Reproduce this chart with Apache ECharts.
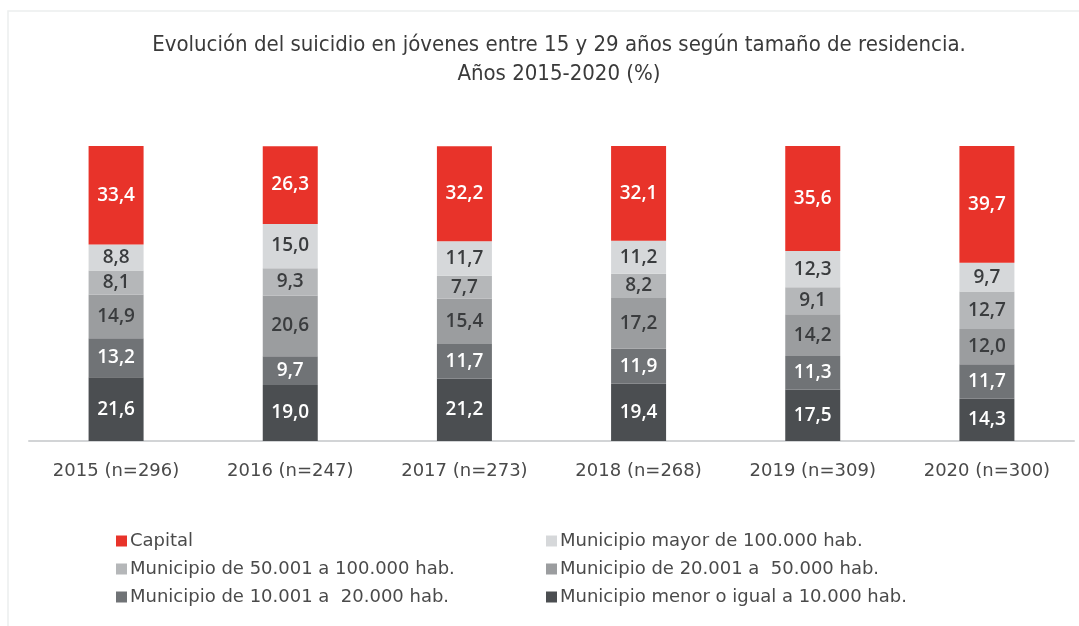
<!DOCTYPE html>
<html>
<head>
<meta charset="utf-8">
<script src="https://cdn.jsdelivr.net/npm/echarts@6/dist/echarts.min.js"></script>
<style>
  html, body { margin: 0; padding: 0; background: #fff; }
  #chart { width: 1079px; height: 626px; }
</style>
</head>
<body>
<div id="chart"></div>
<script>
const years = ['2015 (n=296)', '2016 (n=247)', '2017 (n=273)', '2018 (n=268)', '2019 (n=309)', '2020 (n=300)']

// bottom to top
const menor10k = [21.6, 19.0, 21.2, 19.4, 17.5, 14.3]
const de10a20k = [13.2, 9.7, 11.7, 11.9, 11.3, 11.7]
const de20a50k = [14.9, 20.6, 15.4, 17.2, 14.2, 12.0]
const de50a100k = [8.1, 9.3, 7.7, 8.2, 9.1, 12.7]
const mayor100k = [8.8, 15.0, 11.7, 11.2, 12.3, 9.7]
const capital = [33.4, 26.3, 32.2, 32.1, 35.6, 39.7]

const names = {
  capital: 'Capital',
  mayor: 'Municipio mayor de 100.000 hab.',
  d50: 'Municipio de 50.001 a 100.000 hab.',
  d20: 'Municipio de 20.001 a  50.000 hab.',
  d10: 'Municipio de 10.001 a  20.000 hab.',
  menor: 'Municipio menor o igual a 10.000 hab.',
}

const labelFont = '"Open Sans", sans-serif'
const textFont = '"DejaVu Sans", sans-serif'
const fmt = p => p.value.toFixed(1).replace('.', ',')

function bar(name, data, color, textColor) {
  return {
    name, type: 'bar', stack: 'total', data,
    barWidth: 55,
    itemStyle: { color },
    label: {
      show: true, position: 'inside', formatter: fmt,
      color: textColor, fontSize: 19, fontWeight: 600, fontFamily: labelFont,
    },
  }
}

const legendText = { fontFamily: textFont, fontSize: 18, color: '#4a4a4a', padding: [0, 0, 0, -2] }

const chart = echarts.init(document.getElementById('chart'))
chart.setOption({
  animation: false,
  title: {
    text: 'Evolución del suicidio en jóvenes entre 15 y 29 años según tamaño de residencia.\nAños 2015-2020 (%)',
    left: 554, top: 26, textAlign: 'center',
    textStyle: {
      fontFamily: '"DejaVu Sans Condensed", "Liberation Sans Narrow", sans-serif',
      fontWeight: 'normal', fontSize: 22, color: '#3a3a3a', lineHeight: 29,
    },
  },
  graphic: [
    { type: 'polyline', shape: { points: [[8, 626], [8, 11], [1079, 11]] },
      style: { stroke: '#eceeee', lineWidth: 1.5, fill: null } },
  ],
  legend: [
    {
      orient: 'vertical', left: 111, top: 527, itemGap: 10,
      itemWidth: 11, itemHeight: 11, icon: 'rect',
      data: [names.capital, names.d50, names.d10],
      textStyle: legendText,
    },
    {
      orient: 'vertical', left: 541, top: 527, itemGap: 10,
      itemWidth: 11, itemHeight: 11, icon: 'rect',
      data: [names.mayor, names.d20, names.menor],
      textStyle: legendText,
    },
  ],
  grid: { left: 29, right: 5, top: 146, bottom: 185, containLabel: false },
  xAxis: {
    type: 'category', data: years,
    axisTick: { show: false },
    axisLine: { lineStyle: { color: '#d2d4d6', width: 2 } },
    axisLabel: { margin: 21, fontSize: 18, color: '#4a4a4a', fontFamily: textFont },
  },
  yAxis: { type: 'value', min: 0, max: 100, show: false },
  series: [
    bar(names.menor, menor10k, '#4b4e51', '#ffffff'),
    bar(names.d10, de10a20k, '#707376', '#ffffff'),
    bar(names.d20, de20a50k, '#9b9d9f', '#3a3c3e'),
    bar(names.d50, de50a100k, '#b5b7b9', '#3a3c3e'),
    bar(names.mayor, mayor100k, '#d6d8da', '#3a3c3e'),
    bar(names.capital, capital, '#e8332a', '#ffffff'),
  ],
})
</script>
</body>
</html>
